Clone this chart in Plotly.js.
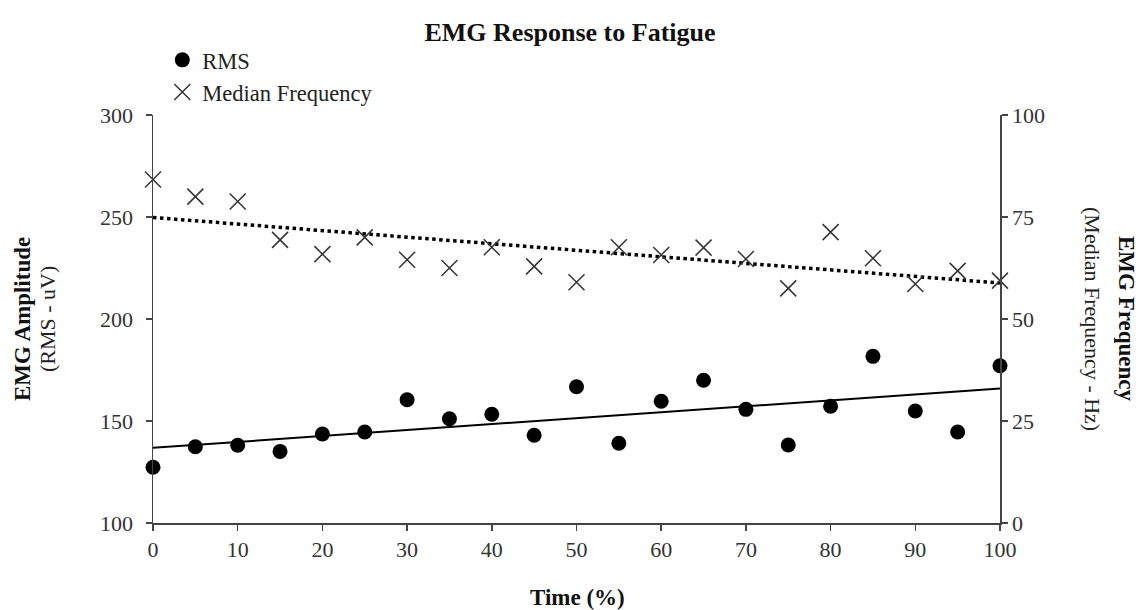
<!DOCTYPE html>
<html>
<head>
<meta charset="utf-8">
<script src="https://cdn.plot.ly/plotly-3.0.1.min.js"></script>
<style>html,body{margin:0;padding:0;background:#fff;}#chart{width:1140px;height:610px;}</style>
</head>
<body>
<div id="chart"></div>
<script>
var timePct = [0,5,10,15,20,25,30,35,40,45,50,55,60,65,70,75,80,85,90,95,100];
var rmsValues = [127.3,137.4,138.1,135.1,143.6,144.6,160.4,151.1,153.3,143.0,166.8,139.1,159.7,170.0,155.7,138.2,157.2,181.7,154.9,144.6,177.1];
var medianFreq = [84.2,80.0,78.8,69.4,65.9,70.0,64.5,62.5,67.6,62.9,59.0,67.6,65.7,67.5,64.7,57.5,71.3,64.9,58.6,61.8,59.4];
var xTicks = [0,10,20,30,40,50,60,70,80,90,100];
var leftTicks = [100,150,200,250,300];
var rightTicks = [0,25,50,75,100];

function linFit(xs, ys) {
  var n = xs.length, mx = 0, my = 0;
  for (var i = 0; i < n; i++) { mx += xs[i]; my += ys[i]; }
  mx /= n; my /= n;
  var sxy = 0, sxx = 0;
  for (var j = 0; j < n; j++) { sxy += (xs[j]-mx)*(ys[j]-my); sxx += (xs[j]-mx)*(xs[j]-mx); }
  var b = sxy / sxx, a = my - b*mx;
  var x0 = xs[0], x1 = xs[n-1];
  return {x: [x0, x1], y: [a + b*x0, a + b*x1]};
}
var rmsFit = linFit(timePct, rmsValues);
var mfFit = linFit(timePct, medianFreq);

var FONT = "Liberation Serif, Times New Roman, serif";
var axisColor = "#444";
var tickFont = {family: FONT, size: 22, color: '#333'};

var traces = [
  {x: rmsFit.x, y: rmsFit.y, mode: 'lines', line: {color: '#000', width: 2}, showlegend: false, hoverinfo: 'skip', yaxis: 'y'},
  {x: mfFit.x, y: mfFit.y, mode: 'lines', line: {color: '#000', width: 3.5, dash: 'dot'}, showlegend: false, hoverinfo: 'skip', yaxis: 'y2'},
  {x: timePct, y: rmsValues, name: 'RMS', mode: 'markers', marker: {symbol: 'circle', size: 15, color: '#000'}, cliponaxis: false, yaxis: 'y'},
  {x: timePct, y: medianFreq, name: 'Median Frequency', mode: 'markers', marker: {symbol: 'x-thin-open', size: 16, color: '#333', line: {color: '#333', width: 1.5}}, cliponaxis: false, yaxis: 'y2'}
];

var layout = {
  width: 1140, height: 610,
  margin: {l: 153, r: 140, t: 115, b: 87},
  paper_bgcolor: '#fff', plot_bgcolor: '#fff',
  font: {family: FONT, size: 22, color: '#222'},
  title: {text: '<b>EMG Response to Fatigue</b>', x: 0.5, xanchor: 'center', y: 1 - 32/610, yanchor: 'middle', font: {family: FONT, size: 26, color: '#111'}},
  showlegend: true,
  legend: {x: 0.011, xanchor: 'left', y: 1.187, yanchor: 'top', bgcolor: 'rgba(0,0,0,0)', font: {family: FONT, size: 22.5, color: '#222'}, traceorder: 'normal', itemwidth: 30},
  xaxis: {range: [0, 100], tickvals: xTicks, ticktext: xTicks.map(String), showgrid: false, zeroline: false, showline: true, linecolor: axisColor, linewidth: 1.5, ticks: 'outside', ticklen: 6, tickcolor: axisColor, tickwidth: 1.5, tickfont: tickFont, fixedrange: true},
  yaxis: {range: [100, 300], tickvals: leftTicks, ticktext: leftTicks.map(String), showgrid: false, zeroline: false, showline: true, linecolor: axisColor, linewidth: 1.5, ticks: 'outside', ticklen: 6, tickcolor: axisColor, tickwidth: 1.5, tickfont: tickFont, ticklabelstandoff: 8},
  yaxis2: {range: [0, 100], overlaying: 'y', side: 'right', tickvals: rightTicks, ticktext: rightTicks.map(String), showgrid: false, zeroline: false, showline: true, linecolor: axisColor, linewidth: 1.5, ticks: 'outside', ticklen: 6, tickcolor: axisColor, tickwidth: 1.5, tickfont: tickFont},
  annotations: [
    {text: '<b>EMG Amplitude</b>', xref: 'paper', yref: 'paper', x: (22-153)/847, y: 0.5, xanchor: 'center', yanchor: 'middle', textangle: -90, showarrow: false, font: {family: FONT, size: 23, color: '#111'}},
    {text: '(RMS - uV)', xref: 'paper', yref: 'paper', x: (47-153)/847, y: 0.5, xanchor: 'center', yanchor: 'middle', textangle: -90, showarrow: false, font: {family: FONT, size: 22, color: '#222'}},
    {text: '<b>EMG Frequency</b>', xref: 'paper', yref: 'paper', x: (1127-153)/847, y: 0.5, xanchor: 'center', yanchor: 'middle', textangle: 90, showarrow: false, font: {family: FONT, size: 23, color: '#111'}},
    {text: '(Median Frequency - Hz)', xref: 'paper', yref: 'paper', x: (1093-153)/847, y: 0.5, xanchor: 'center', yanchor: 'middle', textangle: 90, showarrow: false, font: {family: FONT, size: 22, color: '#222'}},
    {text: '<b>Time (%)</b>', xref: 'paper', yref: 'paper', x: (577-153)/847, y: (523-597)/408, xanchor: 'center', yanchor: 'middle', showarrow: false, font: {family: FONT, size: 23, color: '#111'}}
  ]
};

Plotly.newPlot('chart', traces, layout, {displayModeBar: false, staticPlot: true});
</script>
</body>
</html>
